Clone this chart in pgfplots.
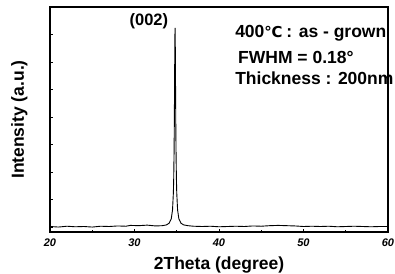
\documentclass[border=0pt]{standalone}
\usepackage{fontspec}
\setmainfont{Liberation Sans}
\newfontfamily\dvfont{DejaVu Sans}
\usepackage{pgfplots}
\pgfplotsset{compat=1.18}
\begin{document}
\begin{tikzpicture}
\begin{axis}[
  scale only axis,
  width=338pt, height=225pt,
  xmin=20, xmax=60, ymin=-0.18, ymax=8,
  xtick={20,30,40,50,60},
  minor x tick num=1,
  ytick={0,1,...,8},
  yticklabels={},
  xtick pos=bottom, ytick pos=left,
  tick align=inside,
  major tick length=3pt, minor tick length=2pt,
  axis line style={line width=1.1pt},
  tick style={line width=0.8pt, black},
  /pgf/number format/assume math mode=true,
  tick label style={font=\fontsize{11}{13}\selectfont\bfseries\itshape},
  xticklabel style={yshift=-3pt},
  xlabel={2Theta (degree)},
  ylabel={Intensity (a.u.)},
  label style={font=\fontsize{17.5}{20}\selectfont\bfseries},
  xlabel style={yshift=-3.5pt},
  ylabel style={yshift=12pt},
  clip=false,
]
\coordinate (LL) at (rel axis cs:0,0);
\addplot[black, line width=0.9pt] coordinates {
(20,0.02) (21,0.00) (22,0.03) (23,0.01) (24,0.02) (25,0.00) (26,0.03) (27,0.02)
(28,0.04) (29,0.03) (29.5,0.06) (30.5,0.05) (31.5,0.07) (32.5,0.04) (33.3,0.05)
(33.8,0.08) (34.1,0.14) (34.35,0.30) (34.5,0.62) (34.6,1.24) (34.64,1.76)
(34.68,2.63) (34.71,3.64) (34.74,5.02) (34.76,6.06) (34.78,6.91) (34.8,7.24)
(34.82,6.91) (34.84,6.06) (34.86,5.02) (34.89,3.64) (34.92,2.63) (34.96,1.76)
(35.0,1.24) (35.1,0.62) (35.25,0.30) (35.5,0.14) (35.8,0.08) (36.3,0.05)
(37,0.03) (38,0.02) (39,0.03) (40,0.01) (41,0.02) (42,0.03) (43,0.02) (44,0.04)
(45,0.03) (46,0.05) (47,0.06) (48,0.05) (49,0.04) (50,0.02) (51,0.03) (52,0.02)
(53,0.03) (54,0.01) (55,0.02) (56,0.03) (57,0.02) (58,0.01) (59,0.02) (60,0.02)
};
\node[font=\fontsize{16.5}{19}\selectfont\bfseries] at (axis cs:31.7,7.5) {(002)};
\node[anchor=west, inner sep=0pt, font=\fontsize{17.5}{20}\selectfont\bfseries] at (axis cs:41.9,7.05) {400{\dvfont\fontsize{15}{18}\selectfont ℃}\kern-1pt{} : as - grown};
\node[anchor=west, inner sep=0pt, font=\fontsize{17.5}{20}\selectfont\bfseries] at (axis cs:42.25,6.18) {FWHM = 0.18°};
\node[anchor=west, inner sep=0pt, font=\fontsize{17.5}{20}\selectfont\bfseries] at (axis cs:41.9,5.42) {Thickness : 200nm};
\end{axis}
\pgfresetboundingbox
\path (LL) ++(-50pt,-41pt) rectangle ++(395pt,273pt);
\end{tikzpicture}
\end{document}
